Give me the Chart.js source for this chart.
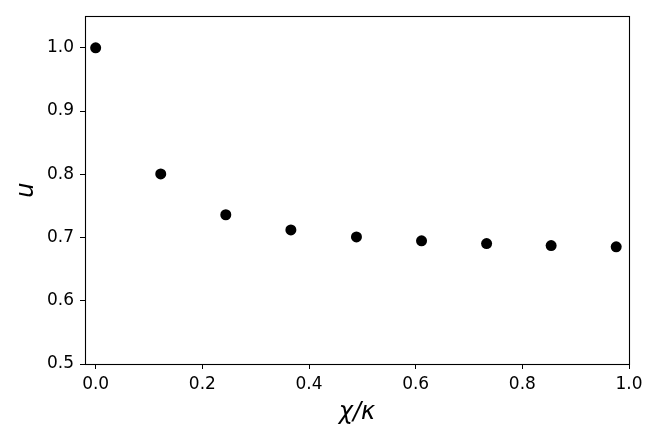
<!DOCTYPE html>
<html>
<head>
<meta charset="utf-8">
<script src="https://cdn.jsdelivr.net/npm/chart.js@4/dist/chart.umd.min.js"></script>
<style>
  html, body { margin: 0; padding: 0; background: #fff; }
  #wrap { width: 660px; height: 440px; }
</style>
</head>
<body>
<div id="wrap"><canvas id="chart"></canvas></div>
<script>
const chiOverKappa = [0.0, 0.122, 0.244, 0.366, 0.489, 0.611, 0.733, 0.854, 0.976];
const uValues = [1.0, 0.8005, 0.736, 0.712, 0.701, 0.6948, 0.6905, 0.6873, 0.6853];
const xTicks = [0.0, 0.2, 0.4, 0.6, 0.8, 1.0];
const yTicks = [0.5, 0.6, 0.7, 0.8, 0.9, 1.0];

Chart.defaults.font.family = "'DejaVu Sans', sans-serif";
Chart.defaults.color = '#000000';

const frame = {
    id: 'frame',
    afterDraw(chart) {
        const a = chart.chartArea;
        const ctx = chart.ctx;
        ctx.save();
        ctx.strokeStyle = '#000000';
        ctx.lineWidth = 1.1;
        ctx.strokeRect(Math.round(a.left) + 0.5, Math.round(a.top) + 0.5,
            Math.round(a.right - a.left), Math.round(a.bottom - a.top));
        ctx.restore();
    }
};

const tickGrid = {
    drawOnChartArea: false,
    drawTicks: true,
    tickLength: 5,
    color: '#000000',
    lineWidth: 1
};

new Chart(document.getElementById('chart'), {
    type: 'scatter',
    data: {
        datasets: [{
            data: chiOverKappa.map((x, i) => ({x: x, y: uValues[i]})),
            backgroundColor: '#000000',
            borderWidth: 0,
            pointRadius: 5.5,
            pointHoverRadius: 5.5
        }]
    },
    options: {
        responsive: true,
        maintainAspectRatio: false,
        animation: false,
        layout: {padding: {top: 16, right: 31, left: 0, bottom: 0}},
        plugins: {
            legend: {display: false},
            tooltip: {enabled: false}
        },
        scales: {
            x: {
                type: 'linear',
                min: -0.02,
                max: 1.0,
                afterBuildTicks: (s) => { s.ticks = xTicks.map(v => ({value: v})); },
                afterFit: (s) => { s.height = 76; },
                grid: tickGrid,
                border: {display: false},
                ticks: {
                    font: {size: 17},
                    padding: 5,
                    maxRotation: 0,
                    callback: (v) => v.toFixed(1)
                },
                title: {
                    display: true,
                    text: 'χ/κ',
                    font: {size: 24, style: 'italic'},
                    padding: {top: 0, bottom: 13}
                }
            },
            y: {
                type: 'linear',
                min: 0.5,
                max: 1.05,
                afterBuildTicks: (s) => { s.ticks = yTicks.map(v => ({value: v})); },
                afterFit: (s) => { s.width = 85; },
                grid: tickGrid,
                border: {display: false},
                ticks: {
                    font: {size: 17},
                    padding: 6,
                    callback: (v) => v.toFixed(1)
                },
                title: {
                    display: true,
                    text: 'u',
                    font: {size: 24, style: 'italic'},
                    padding: {top: 12, bottom: 0}
                }
            }
        }
    },
    plugins: [frame]
});
</script>
</body>
</html>
